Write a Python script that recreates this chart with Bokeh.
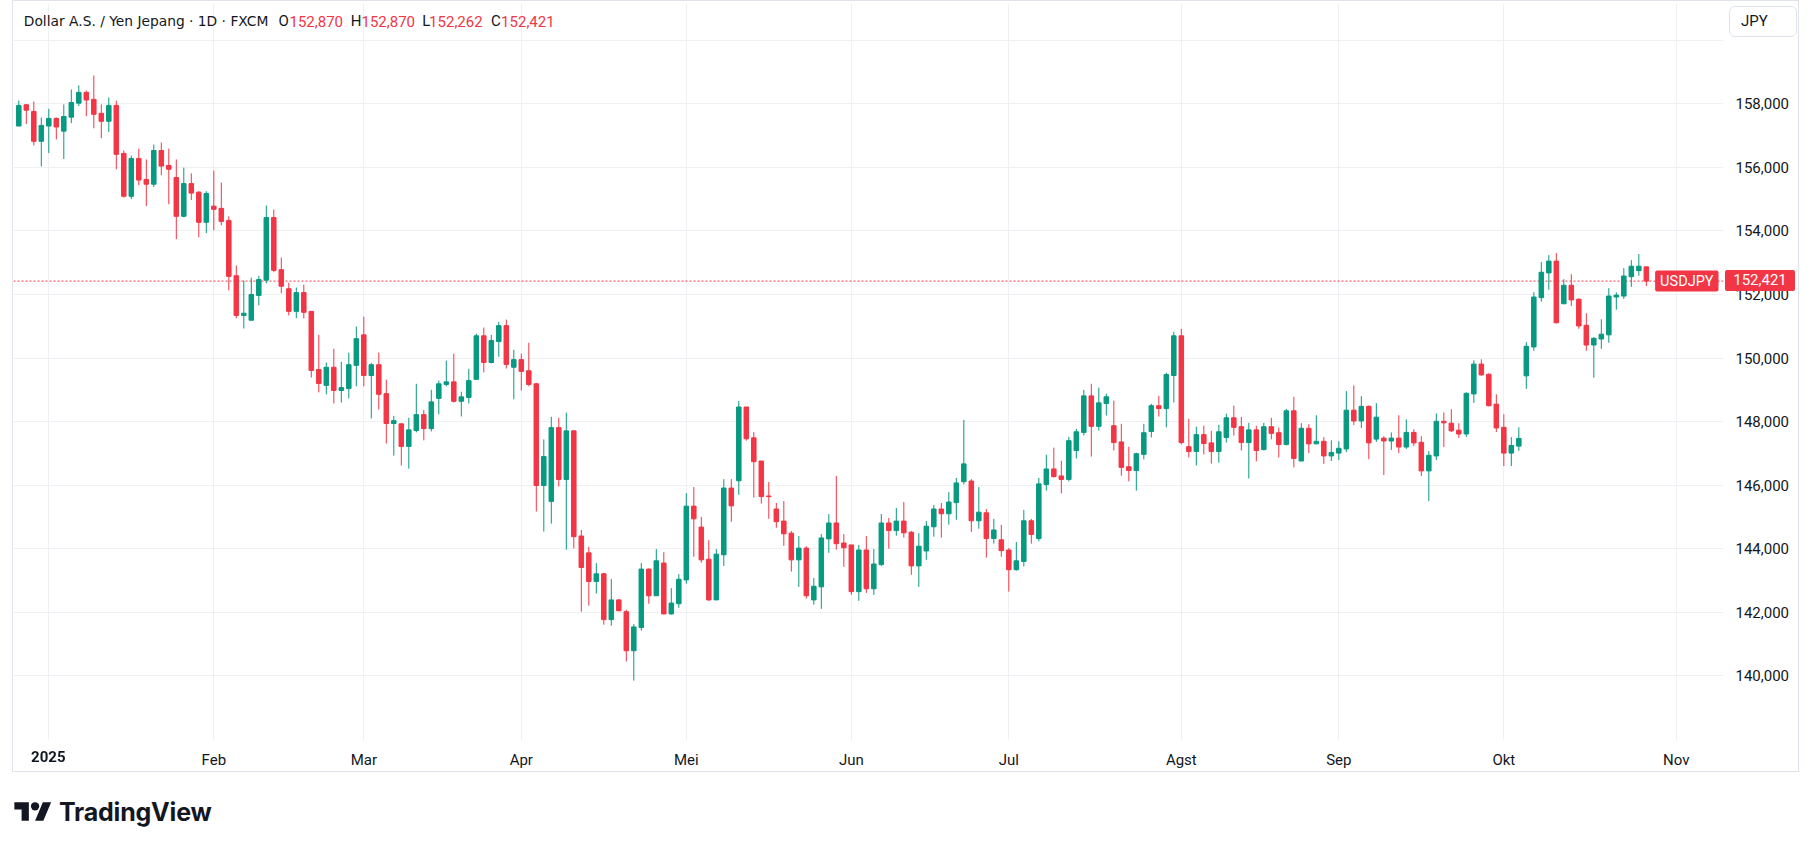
import pandas as pd
from bokeh.plotting import figure
from bokeh.models import ColumnDataSource, FixedTicker, Label, Span, Div, Range1d
from bokeh.layouts import column
from bokeh.embed import file_html
from bokeh.resources import INLINE

# ---------------- data (USD/JPY daily, FXCM) ----------------
OPEN = [157.30, 157.97, 157.76, 156.82, 157.30, 157.54, 157.14, 157.58, 158.02, 158.36,
        158.14, 157.70, 157.45, 157.95, 156.44, 155.09, 156.28, 155.62, 155.47, 156.53,
        156.06, 155.68, 154.46, 155.49, 155.22, 154.27, 154.78, 154.71, 154.33, 152.59,
        151.34, 151.19, 151.97, 152.45, 154.42, 152.78, 152.18, 151.47, 152.06, 151.47,
        149.64, 149.14, 149.71, 148.98, 149.04, 149.77, 150.73, 149.45, 149.79, 148.88,
        147.94, 147.93, 147.22, 147.72, 148.22, 147.78, 148.73, 149.17, 149.25, 148.64,
        148.76, 149.33, 150.70, 149.86, 150.52, 151.02, 149.71, 149.95, 149.60, 149.19,
        145.99, 145.49, 147.81, 146.18, 147.71, 144.40, 143.87, 142.97, 143.21, 141.77,
        142.39, 142.02, 140.79, 141.52, 143.36, 142.52, 143.55, 141.95, 142.27, 143.02,
        145.34, 144.68, 143.67, 142.39, 143.81, 145.91, 146.14, 148.46, 147.49, 146.76,
        145.66, 145.25, 144.87, 144.49, 143.65, 144.02, 142.39, 142.80, 144.31, 144.81,
        144.18, 144.12, 142.65, 143.96, 142.74, 143.50, 144.81, 144.57, 144.87, 144.52,
        143.46, 143.93, 144.69, 145.25, 145.10, 145.45, 146.11, 146.13, 144.88, 145.13,
        144.32, 144.28, 143.96, 143.34, 143.60, 144.88, 144.32, 146.02, 146.51, 146.29,
        146.18, 147.09, 147.66, 148.81, 147.85, 148.57, 147.87, 147.36, 146.58, 146.46,
        146.97, 147.69, 148.50, 148.41, 149.45, 150.70, 147.21, 147.06, 147.59, 147.33,
        147.06, 147.50, 148.12, 147.84, 147.34, 147.74, 147.12, 147.84, 147.65, 147.28,
        148.34, 146.76, 147.79, 147.30, 147.38, 146.92, 147.01, 147.14, 148.36, 148.02,
        148.48, 147.45, 147.48, 147.39, 147.48, 147.20, 147.66, 147.35, 146.45, 146.92,
        148.01, 147.95, 147.73, 147.61, 148.87, 149.81, 149.49, 148.55, 147.82, 147.01,
        147.23, 149.44, 150.35, 151.90, 152.68, 153.05, 151.71, 152.29, 151.85, 151.03,
        150.41, 150.60, 150.73, 151.92, 151.95, 152.56, 152.75, 152.870]
HIGH = [158.10, 157.99, 158.07, 157.57, 157.84, 157.57, 157.98, 158.45, 158.58, 158.42,
        158.89, 157.98, 158.20, 158.10, 156.53, 156.37, 156.59, 156.25, 156.72, 156.78,
        156.59, 156.25, 155.99, 155.81, 155.25, 155.25, 155.90, 155.52, 154.46, 152.91,
        152.44, 152.53, 152.59, 154.80, 154.67, 153.16, 152.37, 152.22, 152.31, 151.47,
        150.73, 149.86, 150.29, 149.88, 150.17, 150.99, 151.30, 149.85, 150.17, 149.32,
        148.18, 147.95, 148.12, 149.19, 148.37, 149.00, 149.29, 149.92, 150.14, 148.94,
        149.66, 150.77, 150.96, 150.73, 151.14, 151.21, 150.26, 150.14, 150.48, 149.22,
        147.44, 148.15, 148.12, 148.28, 147.73, 144.59, 144.06, 143.55, 143.24, 143.05,
        142.42, 142.08, 141.63, 143.55, 143.38, 143.99, 143.89, 142.76, 143.20, 145.75,
        145.94, 145.00, 144.27, 143.99, 146.19, 146.19, 148.65, 148.46, 147.67, 146.76,
        146.10, 145.44, 145.50, 144.56, 144.40, 144.08, 143.08, 144.46, 145.09, 146.29,
        144.46, 144.12, 144.12, 144.40, 143.99, 145.09, 144.97, 145.28, 145.47, 144.56,
        144.49, 144.87, 145.38, 145.44, 145.78, 146.23, 148.05, 146.19, 145.94, 145.25,
        144.94, 144.75, 144.02, 144.21, 145.22, 144.94, 146.23, 146.96, 147.18, 146.77,
        147.52, 147.77, 149.00, 149.19, 149.07, 148.88, 148.66, 147.93, 147.21, 147.02,
        147.93, 148.56, 148.81, 149.54, 150.83, 150.92, 148.09, 147.84, 147.87, 147.71,
        147.90, 148.25, 148.50, 148.15, 147.96, 147.87, 147.96, 148.12, 147.81, 148.40,
        148.78, 147.95, 147.92, 148.20, 147.51, 147.41, 147.38, 148.96, 149.14, 148.80,
        148.51, 148.58, 147.54, 147.66, 148.20, 148.07, 147.76, 147.54, 147.07, 148.26,
        148.29, 148.39, 147.95, 148.92, 149.93, 149.96, 149.52, 148.86, 148.23, 147.51,
        147.82, 150.50, 152.07, 153.02, 153.24, 153.30, 152.48, 152.64, 151.88, 151.41,
        150.66, 151.22, 152.20, 152.07, 152.83, 153.08, 153.27, 152.870]
LOW = [157.30, 157.36, 156.69, 156.03, 156.45, 156.88, 156.26, 157.39, 157.93, 157.61,
       157.23, 156.92, 157.11, 155.94, 155.05, 155.00, 155.44, 154.78, 155.38, 155.75,
       154.84, 153.74, 154.43, 154.97, 153.80, 153.93, 154.02, 154.18, 152.13, 151.25,
       150.93, 151.19, 151.66, 152.35, 152.70, 152.04, 151.34, 151.25, 151.25, 149.39,
       148.92, 148.86, 148.57, 148.60, 148.73, 149.11, 149.11, 148.10, 148.38, 147.31,
       146.93, 146.62, 146.52, 147.66, 147.41, 147.69, 148.23, 149.11, 148.60, 148.16,
       148.57, 149.33, 149.55, 149.83, 150.04, 149.67, 148.70, 148.98, 149.11, 145.17,
       144.54, 144.79, 145.96, 143.97, 144.01, 142.02, 142.21, 142.59, 141.61, 141.58,
       142.03, 140.45, 139.85, 141.42, 142.27, 142.52, 141.93, 141.93, 142.14, 142.90,
       143.75, 143.56, 142.36, 142.39, 143.46, 144.85, 145.70, 147.40, 145.61, 145.42,
       144.94, 144.66, 144.09, 143.28, 142.80, 142.43, 142.24, 142.11, 143.87, 143.97,
       143.43, 142.55, 142.36, 142.61, 142.55, 143.46, 144.00, 144.41, 144.35, 143.18,
       142.80, 143.65, 144.38, 144.35, 144.76, 144.91, 146.02, 144.53, 144.63, 143.72,
       144.16, 143.75, 142.65, 143.31, 143.44, 144.16, 144.23, 145.83, 146.24, 145.74,
       146.12, 146.84, 147.56, 146.90, 147.72, 148.19, 147.09, 146.30, 146.12, 145.83,
       146.81, 147.50, 148.16, 147.82, 148.60, 147.28, 146.87, 146.62, 146.97, 146.68,
       146.71, 147.34, 147.56, 147.09, 146.21, 146.75, 147.09, 147.44, 146.87, 147.25,
       146.56, 146.76, 147.01, 147.30, 146.67, 146.76, 146.79, 147.04, 147.89, 147.80,
       146.82, 147.36, 146.32, 147.11, 147.01, 147.14, 147.23, 146.29, 145.50, 146.79,
       147.20, 147.67, 147.49, 147.52, 148.59, 149.44, 148.48, 147.67, 146.60, 146.60,
       147.08, 149.03, 150.23, 151.77, 152.15, 151.09, 151.69, 151.64, 150.92, 150.23,
       149.38, 150.29, 150.48, 151.52, 151.86, 152.24, 152.59, 152.262]
CLOSE = [157.95, 157.80, 156.82, 157.32, 157.54, 157.27, 157.60, 158.04, 158.36, 158.12,
         157.67, 157.45, 157.95, 156.41, 155.09, 156.28, 155.60, 155.47, 156.53, 156.04,
         155.94, 154.46, 155.49, 155.19, 154.27, 155.18, 154.68, 154.30, 152.57, 151.34,
         151.41, 152.00, 152.47, 154.42, 152.76, 152.26, 151.47, 152.06, 151.44, 149.61,
         149.20, 149.71, 148.98, 149.07, 149.79, 150.61, 149.45, 149.79, 148.86, 147.94,
         148.03, 147.22, 147.74, 148.22, 147.78, 148.62, 149.19, 149.25, 148.64, 148.78,
         149.29, 150.70, 149.86, 150.55, 151.02, 149.80, 149.95, 149.58, 149.17, 145.99,
         146.90, 147.81, 146.18, 147.71, 144.38, 143.41, 142.97, 143.21, 141.77, 142.39,
         142.05, 140.79, 141.54, 143.36, 142.52, 143.62, 141.95, 142.29, 143.04, 145.34,
         144.94, 143.65, 142.39, 143.83, 145.91, 145.35, 148.46, 147.46, 146.74, 145.64,
         145.64, 144.85, 144.47, 143.65, 144.02, 142.52, 142.82, 144.34, 144.81, 144.16,
         144.03, 142.65, 143.96, 142.74, 143.52, 144.81, 144.57, 144.87, 144.50, 143.46,
         144.08, 144.71, 145.25, 145.10, 145.47, 146.07, 146.67, 144.88, 145.15, 144.32,
         144.59, 143.94, 143.34, 143.62, 144.88, 144.45, 146.04, 146.51, 146.27, 146.18,
         147.40, 147.68, 148.81, 147.85, 148.59, 148.78, 147.34, 146.56, 146.46, 146.99,
         147.65, 148.50, 148.41, 149.48, 150.70, 147.34, 147.06, 147.59, 147.31, 147.06,
         147.68, 148.12, 147.82, 147.34, 147.74, 147.09, 147.84, 147.63, 147.28, 148.34,
         146.84, 147.79, 147.30, 147.38, 146.92, 147.03, 147.16, 148.36, 148.02, 148.48,
         147.33, 148.14, 147.39, 147.48, 147.20, 147.66, 147.33, 146.45, 146.94, 148.01,
         147.96, 147.71, 147.61, 148.89, 149.81, 149.47, 148.50, 147.80, 147.01, 147.25,
         147.47, 150.37, 151.92, 152.70, 153.05, 151.11, 152.29, 151.83, 151.01, 150.41,
         150.62, 150.75, 151.95, 151.98, 152.58, 152.89, 152.89, 152.421]

MONTH_LABELS = ["2025", "Feb", "Mar", "Apr", "Mei", "Jun", "Jul", "Agst", "Sep", "Okt", "Nov"]
Y_TICKS = [140, 142, 144, 146, 148, 150, 152, 154, 156, 158, 160]

TITLE = "Dollar A.S. / Yen Jepang \u00b7 1D \u00b7 FXCM"
SYMBOL = "USDJPY"
CURRENCY = "JPY"

# trading days (weekdays, no bar on New Year's Day)
HOLIDAYS = [pd.Timestamp("2025-01-01")]
all_days = [d for d in pd.bdate_range("2024-12-26", "2025-11-28") if d not in HOLIDAYS]
dates = all_days[:len(CLOSE)]
idx = list(range(len(CLOSE)))

month_starts = []
prev = (all_days[0].year, all_days[0].month)
for i, d in enumerate(all_days):
    key = (d.year, d.month)
    if key != prev:
        month_starts.append(i)
    prev = key
month_starts = month_starts[:len(MONTH_LABELS)]


def fmt_price(v):
    return f"{v:.3f}".replace(".", ",")


# ---------------- style ----------------
GREEN = "#089981"
RED = "#f23645"
TEXT = "#131722"
GRID = "#eef0f3"
FONT = "Roboto"

# page-pixel geometry of the plotting frame (page origin = top-left of window)
FX0, FX1 = 13, 1723
FY0, FY1 = 3, 740
XR = (-0.707, 227.29)
YR = (137.966, 161.156)


def sx(px):          # frame-relative screen x
    return px - FX0


def sy(py):          # frame-relative screen y (measured upward from frame bottom)
    return FY1 - py


def py_of(price):
    return FY0 + (YR[1] - price) / (YR[1] - YR[0]) * (FY1 - FY0)


def px_of(i):
    return FX0 + (i - XR[0]) / (XR[1] - XR[0]) * (FX1 - FX0)


up = [c >= o for o, c in zip(OPEN, CLOSE)]
src = ColumnDataSource(dict(
    x=idx,
    open=OPEN, high=HIGH, low=LOW, close=CLOSE,
    top=[max(o, c) for o, c in zip(OPEN, CLOSE)],
    bottom=[min(o, c) for o, c in zip(OPEN, CLOSE)],
    color=[GREEN if u else RED for u in up],
))

# canvas sits at page (13, 1) inside a 1px border
p = figure(width=1787, height=772, output_backend="svg", toolbar_location=None,
           x_range=Range1d(*XR), y_range=Range1d(*YR), y_axis_location="right",
           min_border_left=0, min_border_top=2, min_border_right=77, min_border_bottom=33,
           margin=(0, 0, 0, 12), styles={"border": "1px solid #e0e3eb"})
p.background_fill_color = "white"
p.border_fill_color = "white"
p.outline_line_color = None

xt = FixedTicker(ticks=month_starts)
yt = FixedTicker(ticks=Y_TICKS)
p.xaxis.ticker = xt
p.yaxis.ticker = yt
p.xgrid.ticker = xt
p.ygrid.ticker = yt
p.xgrid.grid_line_color = GRID
p.ygrid.grid_line_color = GRID

x_over = {t: lab for t, lab in zip(month_starts, MONTH_LABELS)}
x_over[month_starts[0]] = ""          # the year label is drawn bold below
p.xaxis.major_label_overrides = x_over
p.yaxis.major_label_overrides = {t: (fmt_price(t) if t < 160 else "") for t in Y_TICKS}

for ax in (p.xaxis[0], p.yaxis[0]):
    ax.axis_line_color = None
    ax.major_tick_line_color = None
    ax.minor_tick_line_color = None
    ax.major_tick_in = 0
    ax.major_tick_out = 0
    ax.major_label_text_font = FONT
    ax.major_label_text_font_size = "15px"
    ax.major_label_text_color = TEXT
p.xaxis.major_label_standoff = 10
p.yaxis.major_label_standoff = 12

# last price line
p.add_layout(Span(location=CLOSE[-1], dimension="width", line_color=RED,
                  line_dash="2 2", line_width=1, level="underlay"))

# candles
p.segment(x0="x", y0="low", x1="x", y1="high", line_color="color", line_width=1, source=src)
p.vbar(x="x", width=0.6, top="top", bottom="bottom", fill_color="color",
       line_color="color", line_width=1, source=src)


def screen_label(px, py, text, font=FONT, **kw):
    p.add_layout(Label(x=sx(px), y=sy(py), x_units="screen", y_units="screen",
                       text=text, text_font=font, text_baseline="middle", **kw))


# header legend
screen_label(23.3, 20.5, TITLE, font="DejaVu Sans", text_align="left",
             text_font_size="13.8px", text_color=TEXT)
parts = [
    (278, "O", TEXT), (289, fmt_price(OPEN[-1]), RED),
    (350.2, "H", TEXT), (361, fmt_price(HIGH[-1]), RED),
    (421.7, "L", TEXT), (428.6, fmt_price(LOW[-1]), RED),
    (490.6, "C", TEXT), (500.6, fmt_price(CLOSE[-1]), RED),
]
for px, txt, col in parts:
    screen_label(px, 20.5, txt, text_align="left", text_font_size="15px", text_color=col)

# symbol tag at the last price (inside the plot area)
last_py = py_of(CLOSE[-1])
screen_label(1718, last_py, SYMBOL, text_align="right", text_font_size="14.5px",
             text_color="white", background_fill_color=RED,
             padding=(5, 5, 2, 2), border_radius=2)

# ---- elements that sit over the axis areas (HTML overlay, page coordinates) ----
year_x = px_of(month_starts[0])
overlay = (
    f'<div style="position:fixed;left:{year_x - 40:.1f}px;top:747px;width:80px;'
    f'text-align:center;font-family:Roboto;font-weight:700;font-size:15px;line-height:20px;'
    f'color:{TEXT};z-index:5;">{MONTH_LABELS[0]}</div>'
    f'<div style="position:fixed;left:1725px;top:{last_py - 10.5:.1f}px;width:70px;height:21px;'
    f'background:{RED};color:#fff;font-family:Roboto;font-size:15px;line-height:21px;'
    f'text-align:center;border-radius:2px;z-index:5;">{fmt_price(CLOSE[-1])}</div>'
    f'<div style="position:fixed;left:1729px;top:6px;width:68px;height:31px;box-sizing:border-box;'
    f'background:#fff;border:1px solid #e0e3eb;border-radius:6px;padding-left:11px;'
    f'font-family:Roboto;font-size:15px;line-height:29px;color:{TEXT};z-index:5;">{CURRENCY}</div>'
)

logo_html = (
    '<div style="display:flex;align-items:center;gap:7px;">'
    '<svg width="38" height="29" viewBox="0 0 36 28" xmlns="http://www.w3.org/2000/svg">'
    '<path fill="#131722" d="M14 22H7V11H0V4h14v18zM28 22h-8l7.5-18h8L28 22z"/>'
    '<circle fill="#131722" cx="20" cy="8" r="4"/></svg>'
    '<span style="font-family:Inter, Roboto, sans-serif;font-weight:700;font-size:25px;'
    'color:#131722;letter-spacing:-0.2px;line-height:30px;">TradingView</span></div>'
    + overlay
)
logo = Div(text=logo_html, width=320, height=34, margin=(25, 0, 0, 14))

layout = column(p, logo, spacing=0)

open("out.html", "w").write(file_html(layout, INLINE))
